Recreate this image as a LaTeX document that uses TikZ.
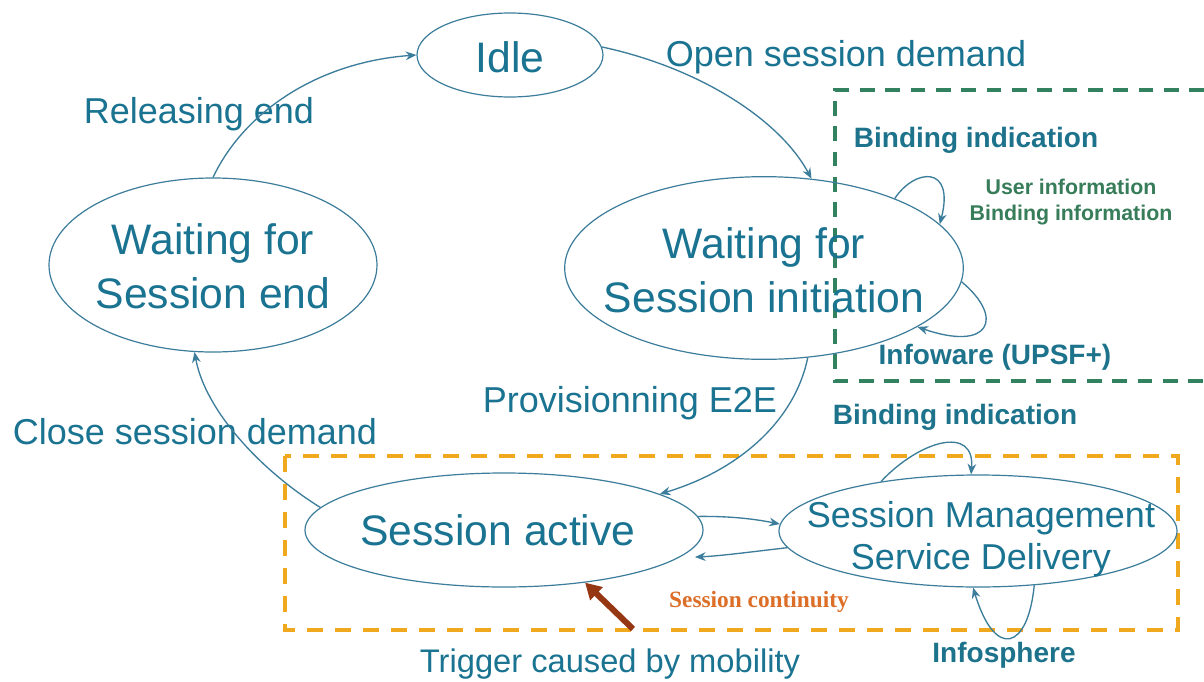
\documentclass[tikz,border=0pt]{standalone}
\usepackage{fontspec}
\setmainfont{Liberation Sans}
\newfontfamily\scfont{Liberation Serif}
\usetikzlibrary{shapes.geometric,arrows.meta}
\definecolor{tealtxt}{RGB}{25,115,145}
\definecolor{linec}{RGB}{60,125,155}
\definecolor{boldc}{RGB}{30,115,140}
\definecolor{greentxt}{RGB}{55,125,90}
\definecolor{greendash}{RGB}{50,130,95}
\definecolor{orangedash}{RGB}{240,168,30}
\definecolor{sctxt}{RGB}{220,110,40}
\definecolor{brownc}{RGB}{150,55,20}
\begin{document}
\begin{tikzpicture}[x=0.75pt,y=-0.75pt,
  state/.style={ellipse,draw=linec,line width=0.9pt,inner sep=0pt},
  stext/.style={text=tealtxt,align=center,inner sep=0pt,font=\fontsize{32}{40.5}\selectfont},
  conn/.style={draw=linec,line width=1pt,-{Stealth[length=8pt,width=6.5pt]}},
  lbl/.style={text=tealtxt,inner sep=0pt,font=\fontsize{27}{32}\selectfont},
  blbl/.style={text=boldc,inner sep=0pt,font=\fontsize{21}{25}\selectfont\bfseries},
  greenbox/.style={draw=greendash,line width=3pt,dash pattern=on 11pt off 8pt},
  orangebox/.style={draw=orangedash,line width=3pt,dash pattern=on 12pt off 9pt},
  brownarrow/.style={draw=brownc,line width=4.5pt,-{Triangle[length=12pt,width=13pt]}}
]
\useasboundingbox (0,0) rectangle (1204,682);
\fill[white] (0,0) rectangle (1204,682);

% dashed frames
\draw[greenbox] (1204,90) -- (835,90) -- (835,381) -- (1204,381);
\draw[orangebox] (285,456) rectangle (1178,630);

% states
\node[state,minimum width=139.5pt,minimum height=63pt] (idle) at (510,55) {};
\node[stext] (idlet) at (510,57) {Idle};
\node[state,minimum width=246pt,minimum height=130.5pt] (wse) at (213,265) {};
\node[stext] (wset) at (213,266) {Waiting for\\Session end};
\node[state,minimum width=299pt,minimum height=137pt] (wsi) at (764,268) {};
\node[stext] (wsit) at (764,270) {Waiting for\\Session initiation};
\node[state,minimum width=298.5pt,minimum height=85.5pt] (sa) at (504,530) {};
\node[stext] (sat) at (498,530) {Session active};
\node[state,minimum width=298.5pt,minimum height=84pt] (sm) at (978,531) {};
\node[stext,font=\fontsize{27}{31.5}\selectfont] (smt) at (981,539) {Session Management\\Service Delivery};

% labels
\node[lbl] (lrel) at (199,114) {Releasing end};
\node[lbl] (lopen) at (846,57) {Open session demand};
\node[lbl] (lprov) at (630,403) {Provisionning E2E};
\node[lbl] (lclose) at (195,432) {Close session demand};
\node[lbl,font=\fontsize{24.5}{29}\selectfont] (ltrig) at (610,664) {Trigger caused by mobility};
\node[blbl] (lbind1) at (976,140) {Binding indication};
\node[text=greentxt,inner sep=0pt,align=center,font=\fontsize{16}{19}\selectfont\bfseries] (luser) at (1071,202) {User information\\Binding information};
\node[blbl] (linfo) at (995,357) {Infoware (UPSF+)};
\node[blbl] (lbind2) at (955,417) {Binding indication};
\node[text=sctxt,inner sep=0pt,font=\scfont\fontsize{17.5}{20}\selectfont\bfseries] (lsc) at (759,602) {Session continuity};
\node[blbl] (lsphere) at (1004,655) {Infosphere};

% transitions
\draw[conn] (wse.90) .. controls (245,110) and (320,62) .. (idle.180);
\draw[conn] (idle.5) .. controls (700,68) and (780,120) .. (wsi.62);
\draw[conn] (wsi.-64) .. controls (795,420) and (740,470) .. (sa.13);
\draw[conn] (sa.173) .. controls (260,470) and (205,410) .. (wse.-102);
\draw[conn] (sa.4) .. controls (730,516) and (755,519) .. (sm.178);
\draw[conn,shorten >=12pt] (sm.185) .. controls (750,552) and (720,556) .. (sa.-9);

% self loops
\draw[conn] (wsi.28) .. controls (915,168) and (955,165) .. (wsi.14);
\draw[conn] (wsi.-4) .. controls (1005,318) and (990,352) .. (wsi.-21);
\draw[conn] (sm.153) .. controls (920,440) and (975,425) .. (sm.97);
\draw[conn] (sm.-44) .. controls (1028,650) and (995,660) .. (sm.-95);

% trigger arrow
\coordinate (trig) at (633,629);
\draw[brownarrow] (trig) -- (sa.-33);
\end{tikzpicture}
\end{document}
